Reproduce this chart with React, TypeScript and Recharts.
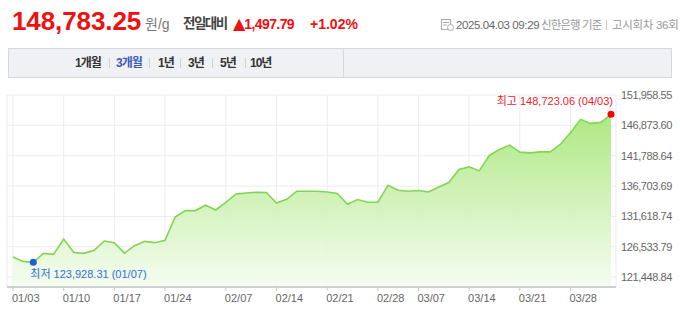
import { AreaChart, Area, XAxis, YAxis, CartesianGrid } from "recharts";

const dates = [
  "01/03", "01/06", "01/07", "01/08", "01/09", "01/10", "01/13", "01/14", "01/15", "01/16",
  "01/17", "01/20", "01/21", "01/22", "01/23", "01/24", "01/31", "02/03", "02/04", "02/05",
  "02/06", "02/07", "02/10", "02/11", "02/12", "02/13", "02/14", "02/17", "02/18", "02/19",
  "02/20", "02/21", "02/24", "02/25", "02/26", "02/27", "02/28", "03/04", "03/05", "03/06",
  "03/07", "03/10", "03/11", "03/12", "03/13", "03/14", "03/17", "03/18", "03/19", "03/20",
  "03/21", "03/24", "03/25", "03/26", "03/27", "03/28", "03/31", "04/01", "04/02", "04/03",
];

const prices = [
  124810, 124087, 123928.31, 125430, 125262, 127831, 125598, 125430, 125934, 127496,
  127227, 125481, 126723, 127445, 127227, 127613, 131525, 132600, 132600, 133490,
  132700, 133993, 135387, 135555, 135672, 135622, 133875, 134497, 135840, 135840,
  135840, 135722, 135454, 133658, 134447, 133993, 133993, 136848, 136008, 135840,
  135958, 135722, 136562, 137301, 139484, 139920, 139249, 141834, 142842, 143564,
  142388, 142271, 142439, 142439, 143681, 145629, 147879, 147207, 147375, 148723.06,
];

const xTicks = ["01/03", "01/10", "01/17", "01/24", "02/07", "02/14", "02/21", "02/28", "03/07", "03/14", "03/21", "03/28"];
const yTicks = [121448.84, 126533.79, 131618.74, 136703.69, 141788.64, 146873.6, 151958.55];
const periods = ["1개월", "3개월", "1년", "3년", "5년", "10년"];

const data = dates.map((d, i) => ({ date: d, price: prices[i] }));
const minIdx = prices.indexOf(Math.min(...prices));
const maxIdx = prices.indexOf(Math.max(...prices));

const fmt = (v: number) =>
  v.toLocaleString("en-US", { minimumFractionDigits: 2, maximumFractionDigits: 2 });

const KR = '"Liberation Sans", "Noto Sans CJK KR", sans-serif';

function XTick(props: any) {
  const { x, y, payload } = props;
  return (
    <text x={x - 1} y={y} dy={8} fontSize={11} fill="#666" textAnchor="start" fontFamily={KR}>
      {payload.value}
    </text>
  );
}

function MarkDot(props: any) {
  const { cx, cy, index } = props;
  if (index === minIdx) {
    return (
      <g key="min">
        <circle cx={cx} cy={cy} r={3.5} fill="#1f5fd0" />
        <text x={cx - 3} y={cy + 16} fontSize={11} fill="#2f6fd8" fontFamily={KR}>
          최저 {fmt(prices[minIdx])} ({dates[minIdx]})
        </text>
      </g>
    );
  }
  if (index === maxIdx) {
    return (
      <g key="max">
        <circle cx={cx} cy={cy} r={3.5} fill="#ff0000" />
        <text x={cx + 2} y={cy - 9} fontSize={11} fill="#e8242a" textAnchor="end" fontFamily={KR}>
          최고 {fmt(prices[maxIdx])} ({dates[maxIdx]})
        </text>
      </g>
    );
  }
  return <g key={"d" + index} />;
}

function Header() {
  const abs = (left: number, top: number, style: any = {}) => ({
    position: "absolute" as const,
    left,
    top,
    whiteSpace: "nowrap" as const,
    fontFamily: KR,
    ...style,
  });
  return (
    <>
      <div style={abs(12, 8, { fontSize: 26, lineHeight: "26px", fontWeight: 700, color: "#ee1111", letterSpacing: -0.1 })}>
        148,783.25
      </div>
      <div style={abs(145, 17, { fontSize: 14, lineHeight: "14px", color: "#777" })}>원/g</div>
      <div style={abs(183, 17, { fontSize: 13.5, lineHeight: "14px", fontWeight: 700, color: "#444", letterSpacing: -1.5 })}>
        전일대비
      </div>
      <div style={abs(233, 17, { fontSize: 14, lineHeight: "14px", fontWeight: 700, color: "#ee1111" })}>
        <span style={{ fontFamily: "DejaVu Sans", fontSize: 16, letterSpacing: -1 }}>▲</span>
        <span style={{ letterSpacing: -0.6 }}>1,497.79</span>
      </div>
      <div style={abs(310, 17, { fontSize: 14, lineHeight: "14px", fontWeight: 700, color: "#ee1111" })}>+1.02%</div>

      <svg style={{ position: "absolute", left: 441, top: 19 }} width={13} height={12}>
        <rect x={0.5} y={0.5} width={9} height={10} fill="none" stroke="#aaa" />
        <line x1={2} y1={3.5} x2={8} y2={3.5} stroke="#aaa" />
        <line x1={2} y1={6} x2={6} y2={6} stroke="#aaa" />
        <circle cx={9.5} cy={8.5} r={3} fill="#fff" stroke="#aaa" />
      </svg>
      <div style={abs(456, 19, { fontSize: 11.5, lineHeight: "12px", color: "#666", letterSpacing: -0.4 })}>
        2025.04.03 09:29
      </div>
      <div style={abs(541, 19, { fontSize: 11.5, lineHeight: "12px", color: "#999", letterSpacing: -0.9 })}>신한은행 기준</div>
      <div style={{ position: "absolute", left: 606, top: 20, width: 1, height: 10, background: "#ccc" }} />
      <div style={abs(612, 19, { fontSize: 11.5, lineHeight: "12px", color: "#999", letterSpacing: -0.3 })}>고시회차 36회</div>
    </>
  );
}

function PeriodBar() {
  const lefts = [75, 116, 158, 188, 220, 250];
  const seps = [109, 149, 180, 212, 245];
  return (
    <div
      style={{
        position: "absolute",
        left: 8,
        top: 48,
        width: 662,
        height: 28,
        background: "#eff1f5",
        border: "1px solid #d5d8de",
      }}
    >
      <div style={{ position: "absolute", left: 334, top: 0, width: 1, height: 28, background: "#d5d8de" }} />
      {periods.map((p, i) => (
        <div
          key={p}
          style={{
            position: "absolute",
            left: lefts[i] - 9,
            top: 8,
            fontSize: 12,
            lineHeight: "12px",
            fontWeight: 700,
            letterSpacing: -1,
            color: i === 1 ? "#3d5cb5" : "#333",
            fontFamily: KR,
            whiteSpace: "nowrap",
          }}
        >
          {p}
        </div>
      ))}
      {seps.map((s) => (
        <div key={s} style={{ position: "absolute", left: s - 9, top: 9, width: 1, height: 10, background: "#d0d0d0" }} />
      ))}
    </div>
  );
}

export default function App() {
  return (
    <div style={{ position: "relative", width: 680, height: 316, overflow: "hidden", background: "#fff" }}>
      <style>{`body{margin:0}`}</style>
      <Header />
      <PeriodBar />
      <div style={{ position: "absolute", left: 0, top: 88 }}>
        <AreaChart width={680} height={228} data={data} margin={{ top: 7, right: 0, left: 7, bottom: 0 }}>
          <defs>
            <linearGradient id="goldFill" x1="0" y1="0" x2="0" y2="1">
              <stop offset="0%" stopColor="#a9e77c" stopOpacity={0.95} />
              <stop offset="100%" stopColor="#f4fcef" stopOpacity={0.9} />
            </linearGradient>
          </defs>
          <CartesianGrid stroke="#ececec" />
          <XAxis
            dataKey="date"
            ticks={xTicks}
            interval={0}
            padding={{ left: 6, right: 5 }}
            height={29}
            tickSize={4}
            tickMargin={3}
            axisLine={{ stroke: "#aaa" }}
            tickLine={{ stroke: "#ccc" }}
            tick={<XTick />}
          />
          <YAxis
            orientation="right"
            width={64}
            domain={[119800, 151958.55]}
            ticks={yTicks}
            tickFormatter={fmt}
            tickSize={3}
            tickMargin={2}
            axisLine={false}
            tickLine={false}
            tick={{ fontSize: 11, fill: "#666", fontFamily: KR, letterSpacing: -0.4 }}
          />
          <Area
            type="linear"
            dataKey="price"
            stroke="#80d653"
            strokeWidth={1.6}
            fill="url(#goldFill)"
            fillOpacity={1}
            dot={<MarkDot />}
            activeDot={false}
            isAnimationActive={false}
          />
        </AreaChart>
      </div>
    </div>
  );
}
